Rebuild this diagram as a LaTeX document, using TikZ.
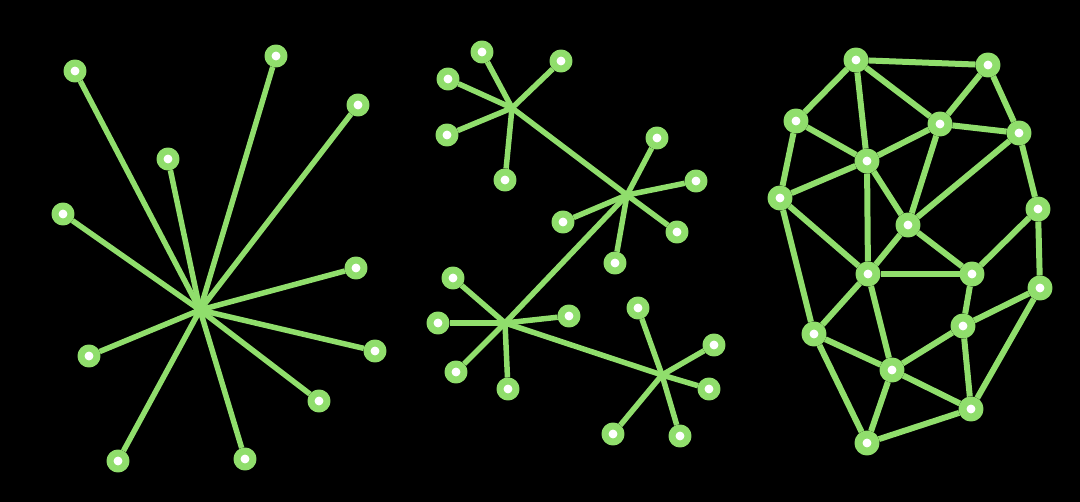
\documentclass[tikz,border=0pt]{standalone}
\definecolor{leafgreen}{RGB}{144,222,108}
\tikzset{
  leaf/.style={circle, draw=leafgreen, fill=white, line width=7pt, minimum size=16pt, inner sep=0pt},
  bigleaf/.style={leaf, line width=8pt, minimum size=17pt},
  link/.style={draw=leafgreen, line width=5.5pt},
  meshlink/.style={link, line width=6pt},
}
\begin{document}
\begin{tikzpicture}[x=1pt, y=-1pt, line join=round]
  \fill[black] (0,0) rectangle (1080,502);
  \useasboundingbox (0,0) rectangle (1080,502);

  % Left star
  \coordinate (S) at (200, 310);
  \node[leaf] (s1) at (75, 71) {};
  \node[leaf] (s2) at (276, 56) {};
  \node[leaf] (s3) at (358, 105) {};
  \node[leaf] (s4) at (168, 159) {};
  \node[leaf] (s5) at (63, 214) {};
  \node[leaf] (s6) at (356, 268) {};
  \node[leaf] (s7) at (89, 356) {};
  \node[leaf] (s8) at (375, 351) {};
  \node[leaf] (s9) at (319, 401) {};
  \node[leaf] (s10) at (118, 461) {};
  \node[leaf] (s11) at (245, 459) {};

  \draw[link] (S) -- (s1);
  \draw[link] (S) -- (s2);
  \draw[link] (S) -- (s3);
  \draw[link] (S) -- (s4);
  \draw[link] (S) -- (s5);
  \draw[link] (S) -- (s6);
  \draw[link] (S) -- (s7);
  \draw[link] (S) -- (s8);
  \draw[link] (S) -- (s9);
  \draw[link] (S) -- (s10);
  \draw[link] (S) -- (s11);
  \fill[leafgreen] (S) circle (6pt);

  % Middle: four small stars in a chain
  \coordinate (A) at (512, 108);
  \coordinate (B) at (627, 195);
  \coordinate (C) at (505, 323);
  \coordinate (D) at (662, 375);

  \node[leaf] (a1) at (482, 52) {};
  \node[leaf] (a2) at (561, 61) {};
  \node[leaf] (a3) at (448, 79) {};
  \node[leaf] (a4) at (447, 135) {};
  \node[leaf] (a5) at (505, 180) {};

  \node[leaf] (b1) at (657, 138) {};
  \node[leaf] (b2) at (696, 181) {};
  \node[leaf] (b3) at (563, 222) {};
  \node[leaf] (b4) at (677, 232) {};
  \node[leaf] (b5) at (615, 263) {};

  \node[leaf] (c1) at (453, 278) {};
  \node[leaf] (c2) at (438, 323) {};
  \node[leaf] (c3) at (569, 316) {};
  \node[leaf] (c4) at (456, 372) {};
  \node[leaf] (c5) at (508, 389) {};

  \node[leaf] (d1) at (638, 308) {};
  \node[leaf] (d2) at (714, 345) {};
  \node[leaf] (d3) at (709, 389) {};
  \node[leaf] (d4) at (613, 434) {};
  \node[leaf] (d5) at (680, 436) {};

  \draw[link] (A) -- (B) -- (C) -- (D);
  \draw[link] (A) -- (a1);
  \draw[link] (A) -- (a2);
  \draw[link] (A) -- (a3);
  \draw[link] (A) -- (a4);
  \draw[link] (A) -- (a5);
  \draw[link] (B) -- (b1);
  \draw[link] (B) -- (b2);
  \draw[link] (B) -- (b3);
  \draw[link] (B) -- (b4);
  \draw[link] (B) -- (b5);
  \draw[link] (C) -- (c1);
  \draw[link] (C) -- (c2);
  \draw[link] (C) -- (c3);
  \draw[link] (C) -- (c4);
  \draw[link] (C) -- (c5);
  \draw[link] (D) -- (d1);
  \draw[link] (D) -- (d2);
  \draw[link] (D) -- (d3);
  \draw[link] (D) -- (d4);
  \draw[link] (D) -- (d5);

  % Right: mesh
  \node[bigleaf] (m1) at (856, 60) {};
  \node[bigleaf] (m2) at (988, 65) {};
  \node[bigleaf] (m3) at (796, 121) {};
  \node[bigleaf] (m4) at (940, 124) {};
  \node[bigleaf] (m5) at (1019, 133) {};
  \node[bigleaf] (m6) at (867, 161) {};
  \node[bigleaf] (m7) at (780, 198) {};
  \node[bigleaf] (m8) at (908, 225) {};
  \node[bigleaf] (m9) at (1038, 209) {};
  \node[bigleaf] (m10) at (868, 274) {};
  \node[bigleaf] (m11) at (972, 274) {};
  \node[bigleaf] (m12) at (1040, 288) {};
  \node[bigleaf] (m13) at (963, 326) {};
  \node[bigleaf] (m14) at (814, 334) {};
  \node[bigleaf] (m15) at (892, 370) {};
  \node[bigleaf] (m16) at (971, 409) {};
  \node[bigleaf] (m17) at (867, 443) {};

  \draw[meshlink] (m1) -- (m2);
  \draw[meshlink] (m1) -- (m3);
  \draw[meshlink] (m1) -- (m6);
  \draw[meshlink] (m1) -- (m4);
  \draw[meshlink] (m2) -- (m4);
  \draw[meshlink] (m2) -- (m5);
  \draw[meshlink] (m3) -- (m6);
  \draw[meshlink] (m3) -- (m7);
  \draw[meshlink] (m4) -- (m5);
  \draw[meshlink] (m4) -- (m6);
  \draw[meshlink] (m4) -- (m8);
  \draw[meshlink] (m5) -- (m8);
  \draw[meshlink] (m5) -- (m9);
  \draw[meshlink] (m6) -- (m7);
  \draw[meshlink] (m6) -- (m8);
  \draw[meshlink] (m6) -- (m10);
  \draw[meshlink] (m7) -- (m10);
  \draw[meshlink] (m7) -- (m14);
  \draw[meshlink] (m8) -- (m10);
  \draw[meshlink] (m8) -- (m11);
  \draw[meshlink] (m9) -- (m11);
  \draw[meshlink] (m9) -- (m12);
  \draw[meshlink] (m10) -- (m11);
  \draw[meshlink] (m10) -- (m14);
  \draw[meshlink] (m10) -- (m15);
  \draw[meshlink] (m11) -- (m13);
  \draw[meshlink] (m12) -- (m13);
  \draw[meshlink] (m12) -- (m16);
  \draw[meshlink] (m13) -- (m15);
  \draw[meshlink] (m13) -- (m16);
  \draw[meshlink] (m14) -- (m15);
  \draw[meshlink] (m14) -- (m17);
  \draw[meshlink] (m15) -- (m16);
  \draw[meshlink] (m15) -- (m17);
  \draw[meshlink] (m16) -- (m17);
\end{tikzpicture}
\end{document}
